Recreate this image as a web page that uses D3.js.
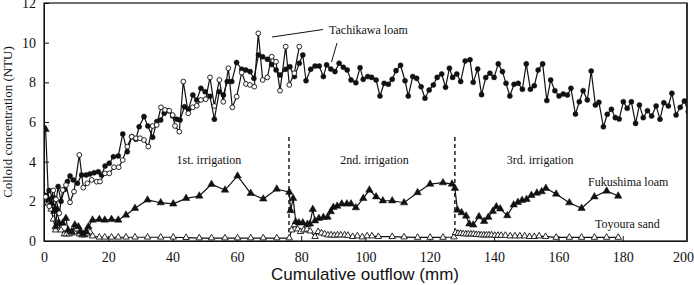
<!DOCTYPE html>
<html><head><meta charset="utf-8">
<script src="https://cdn.jsdelivr.net/npm/d3@7"></script>
<style>
body{margin:0;background:#fff;}
svg{display:block;}
svg text{font-family:"Liberation Serif","Times New Roman",serif;}
svg text.sans{font-family:"Liberation Sans",Arial,sans-serif;}
</style></head>
<body>
<svg id="c" width="694" height="285"></svg>
<script>
// ---- data ----
const xTicks = [0,20,40,60,80,100,120,140,160,180,200];
const yTicks = [0,2,4,6,8,10,12];
const irrigationBreaks = [76.2, 127.8];
const irrigationLabels = [
  {text:"1st. irrigation", x:51.3},
  {text:"2nd. irrigation", x:102.8},
  {text:"3rd. irrigation", x:154.3}
];
// Tachikawa loam (filled circles)
const tachiFilledX = [0.6,1.6,2.7,3.4,4.4,5.3,6.4,7.3,8.1,9.1,10.4,11.7,13.1,14.3,15.6,16.9,17.9,19.0,20.3,21.6,23.1,24.5,25.9,27.3,28.6,29.6,31.1,32.3,33.8,35.1,36.3,37.4,38.7,40.0,41.3,42.3,43.7,44.9,46.3,47.5,48.8,50.1,51.6,53.0,54.5,55.8,57.0,58.4,59.9,61.5,62.8,64.1,65.3,66.7,68.0,69.5,70.8,72.2,73.4,75.2,76.5,77.9,79.4,80.5,81.5,82.95,84.3,85.6,86.9,87.9,89.2,90.5,91.8,93.1,94.3,95.5,97.0,98.3,99.3,100.7,101.9,103.3,104.5,105.8,107.1,108.3,109.5,110.9,112.3,113.3,114.7,115.9,117.3,118.5,119.8,121.1,122.3,123.7,124.9,126.1,127.1,128.4,129.6,131.0,132.5,133.5,134.9,136.1,137.4,138.7,140.0,141.3,142.6,143.7,144.9,146.2,147.5,148.8,150.0,151.3,152.5,153.7,155.1,156.4,157.6,158.9,160.2,161.5,162.8,163.9,165.3,166.5,167.7,169.0,170.2,171.5,172.6,174.0,175.2,176.5,177.7,178.9,180.2,181.4,182.7,184.0,185.2,186.4,187.7,189.0,190.4,191.6,192.8,194.2,195.3,196.6,197.9,199.2,200.4];
const tachiFilledY = [2.3,2.55,2.2,1.6,2.75,2.0,2.6,3.0,3.28,3.08,2.91,3.33,3.33,3.38,3.44,3.49,3.33,3.78,3.92,4.25,4.29,5.40,4.50,5.26,5.13,5.76,6.27,5.80,5.23,6.02,6.10,6.44,6.57,6.30,6.14,6.1,6.77,6.64,7.36,7.11,7.70,7.53,7.3,6.14,7.53,7.36,8.04,8.04,9.0,8.66,8.62,8.54,8.20,9.38,9.29,9.16,8.9,8.62,8.37,8.66,8.79,8.29,8.96,9.38,8.08,8.66,8.82,8.82,8.29,8.88,8.67,8.54,8.96,8.76,8.62,8.12,7.98,8.74,8.15,8.29,8.25,8.12,7.31,7.95,7.90,8.15,8.59,8.86,8.08,7.31,8.29,8.20,7.78,7.20,7.61,7.87,8.25,8.42,7.75,8.71,8.25,8.42,8.04,9.08,9.14,8.0,8.67,7.38,8.24,8.46,8.25,8.93,8.54,7.95,7.31,7.90,7.95,7.65,8.93,7.65,7.83,8.62,8.93,7.08,8.12,7.58,7.31,7.41,7.36,7.70,6.40,7.02,7.58,7.11,8.57,6.86,6.99,5.76,6.39,6.64,6.22,6.15,7.02,6.69,7.02,5.93,6.86,6.22,6.57,6.30,6.81,6.14,6.97,6.81,7.45,6.35,6.74,7.06,6.52];
// Tachikawa loam (open circles)
const tachiOpenX = [0.53,1.65,2.89,3.73,4.76,5.82,6.84,8.09,9.33,10.98,12.22,13.47,14.84,16.39,17.42,18.97,20.31,21.77,23.23,24.48,25.91,27.28,28.62,29.86,31.1,32.44,33.81,35.05,36.39,37.64,38.97,40.03,40.75,42.08,43.33,44.88,46.25,47.5,48.83,50.3,51.63,52.97,54.53,55.77,57.33,58.57,59.94,61.49,62.83,64.07,65.41,66.66,68.02,69.46,70.82,72.16,73.41,75.18,76.3,77.85,79.41];
const tachiOpenY = [2.23,1.75,2.55,2.1,1.4,2.57,2.82,1.95,2.49,4.34,2.69,2.91,3.08,2.99,3.0,3.41,3.41,3.72,3.72,4.08,4.76,5.26,5.18,5.18,5.09,4.76,5.80,5.85,6.74,6.61,6.57,6.35,5.80,5.51,8.04,6.44,6.74,6.82,7.11,7.15,8.25,6.81,8.12,7.02,8.71,6.74,7.28,8.49,7.92,7.87,7.78,10.47,8.12,8.25,9.29,9.04,7.58,9.80,7.87,8.46,9.80];
// Fukushima loam (filled triangles)
const fukuX = [0.5,1.4,2.3,3.2,3.6,4.1,4.7,5.8,6.8,7.5,8.6,9.6,10.7,11.4,12.2,13.1,13.8,15.1,17.2,18.9,21.0,23.1,25.5,28.3,32.2,36.3,40.2,44.2,48.3,52.1,56.3,60.2,64.3,68.2,72.4,76.3,76.7,77.5,78.3,79.3,80.5,81.9,82.7,83.6,84.3,85.5,86.9,88.2,89.2,90.0,91.2,92.6,94.2,95.5,97.0,99.3,101.2,103.3,105.4,108.3,112.0,116.2,120.1,124.1,126.9,127.8,128.6,129.9,131.3,132.3,133.5,135.3,136.9,138.2,139.6,140.7,141.9,144.1,146.1,147.4,148.7,150.1,151.6,153.3,154.8,156.1,159.3,163.4,167.2,171.2,175.0,178.6];
const fukuY = [5.63,2.1,1.9,1.5,0.72,1.6,0.9,0.9,1.14,0.55,0.47,0.81,0.72,0.47,0.35,0.47,0.72,1.06,1.09,1.06,1.09,1.06,1.31,1.65,2.07,1.93,1.87,2.15,2.27,2.86,2.57,3.28,2.40,2.12,2.62,2.46,1.53,2.15,0.97,0.92,0.92,0.84,0.86,1.60,1.02,1.14,1.19,1.2,1.48,1.70,1.76,1.87,1.87,1.87,1.68,2.15,2.57,2.23,2.03,2.03,1.93,2.44,2.87,2.94,2.87,2.66,1.56,1.43,1.26,0.86,0.81,1.23,0.99,1.2,1.50,1.73,1.62,1.28,1.82,1.95,2.05,2.1,2.3,2.42,2.49,2.66,2.37,1.93,1.65,2.23,2.52,2.27];
// Toyoura sand (open triangles)
const toyoX = [0.5,1.3,2.2,2.9,3.6,4.4,5.3,6.3,7.0,7.8,8.6,9.4,10.2,11.0,11.8,12.6,13.4,14.3,15.1,17.2,18.9,21.0,23.1,25.5,28.3,32.2,36.3,40.2,44.2,48.3,52.1,56.3,60.2,64.3,68.2,72.4,76.3,77.0,77.9,78.9,79.8,80.8,81.8,82.8,84.3,85.3,86.3,87.3,88.3,89.3,90.3,91.3,92.3,93.5,94.5,96.0,97.5,99.0,100.5,102.0,104.0,108.3,112.0,116.2,120.1,124.1,127.5,128.0,128.8,129.6,130.4,131.2,132.0,132.8,133.6,134.4,135.2,136.0,136.8,137.6,138.4,139.2,140.2,141.2,142.2,143.5,145.0,146.5,148.0,149.5,151.0,152.5,154.0,156.0,159.3,163.4,167.2,171.2,175.0,178.6];
const toyoY = [2.2,1.9,1.6,1.1,0.55,0.9,0.55,0.35,0.35,0.35,0.4,0.45,0.6,0.35,0.3,0.3,0.35,0.45,0.25,0.19,0.19,0.19,0.19,0.19,0.19,0.19,0.19,0.19,0.17,0.15,0.15,0.15,0.15,0.15,0.15,0.15,0.15,0.55,0.81,0.6,0.47,0.55,0.59,0.5,0.22,0.47,0.4,0.35,0.3,0.3,0.28,0.3,0.3,0.3,0.28,0.22,0.25,0.2,0.25,0.25,0.22,0.22,0.2,0.18,0.18,0.18,0.2,0.42,0.38,0.38,0.36,0.35,0.35,0.35,0.35,0.32,0.32,0.3,0.3,0.3,0.3,0.3,0.28,0.28,0.28,0.28,0.25,0.25,0.25,0.25,0.22,0.22,0.25,0.22,0.18,0.18,0.18,0.18,0.18,0.18];

// ---- chart ----
const W = 694, H = 285;
const m = {l:44, r:7, t:3, b:44};
const svg = d3.select("#c");
const x = d3.scaleLinear().domain([0,200]).range([m.l, W-m.r]);
const y = d3.scaleLinear().domain([0,12]).range([H-m.b, m.t]);

svg.append("defs").append("clipPath").attr("id","clip")
  .append("rect").attr("x",m.l).attr("y",m.t).attr("width",W-m.r-m.l).attr("height",H-m.b-m.t);

// axes
const xa = svg.append("g").attr("transform",`translate(0,${H-m.b})`)
  .call(d3.axisBottom(x).tickValues(xTicks).tickSize(-5).tickSizeOuter(0).tickPadding(11));
const ya = svg.append("g").attr("transform",`translate(${m.l},0)`)
  .call(d3.axisLeft(y).tickValues(yTicks).tickSize(-5).tickSizeOuter(0).tickPadding(8));
[xa,ya].forEach(g=>{
  g.attr("font-family",null);
  g.selectAll("text").attr("font-size",14).attr("fill","#111");
  g.selectAll("line").attr("stroke","#111");
  g.select(".domain").attr("stroke","#111");
});
xa.selectAll(".tick:last-of-type text").attr("dx","-4");
// frame
svg.append("rect").attr("x",m.l).attr("y",m.t).attr("width",W-m.r-m.l).attr("height",H-m.b-m.t)
  .attr("fill","none").attr("stroke","#111").attr("stroke-width",1.2);
svg.append("line").attr("x1",x(200)).attr("x2",x(200)).attr("y1",y(12)).attr("y2",y(0))
  .attr("stroke","#333").attr("stroke-width",2);

// irrigation dashed lines
irrigationBreaks.forEach(b=>{
  svg.append("line").attr("x1",x(b)).attr("x2",x(b)).attr("y1",y(5.25)).attr("y2",y(0))
    .attr("stroke","#111").attr("stroke-width",1.4).attr("stroke-dasharray","4,3");
});
irrigationLabels.forEach(d=>{
  svg.append("text").attr("x",x(d.x)).attr("y",y(3.9)).attr("text-anchor","middle")
    .attr("font-size",12).attr("fill","#111").text(d.text);
});

const plot = svg.append("g").attr("clip-path","url(#clip)");
const line = d3.line().x(d=>x(d[0])).y(d=>y(d[1]));
function series(xs, ys, shape, filled, size){
  const pts = xs.map((v,i)=>[v, ys[i]]);
  plot.append("path").datum(pts).attr("d",line).attr("fill","none").attr("stroke","#111").attr("stroke-width",1.2);
  const sym = d3.symbol().type(shape).size(size);
  plot.selectAll(null).data(pts).enter().append("path")
    .attr("transform",d=>`translate(${x(d[0])},${y(d[1])})`)
    .attr("d",sym)
    .attr("fill",filled?"#111":"#fff").attr("stroke","#111").attr("stroke-width",filled?0.5:0.9);
}
series(toyoX, toyoY, d3.symbolTriangle, false, 18);
series(fukuX, fukuY, d3.symbolTriangle, true, 24);
series(tachiFilledX, tachiFilledY, d3.symbolCircle, true, 20);
series(tachiOpenX, tachiOpenY, d3.symbolCircle, false, 18);

// annotations
svg.append("line").attr("x1",272).attr("y1",37).attr("x2",323).attr("y2",29.5).attr("stroke","#111").attr("stroke-width",1);
svg.append("line").attr("x1",337).attr("y1",43).attr("x2",331.5).attr("y2",62).attr("stroke","#111").attr("stroke-width",1);
svg.append("text").attr("x",329).attr("y",33.5).attr("font-size",12).attr("fill","#111").text("Tachikawa loam");
svg.append("text").attr("x",588).attr("y",186).attr("font-size",12).attr("fill","#111").text("Fukushima loam");
svg.append("text").attr("x",595).attr("y",228).attr("font-size",12).attr("fill","#111").text("Toyoura sand");

// axis titles
svg.append("text").attr("class","sans").attr("x",365).attr("y",280).attr("text-anchor","middle")
  .attr("font-size",17).attr("fill","#111").text("Cumulative outflow (mm)");
svg.append("text").attr("transform",`translate(12,${(y(0)+y(12))/2}) rotate(-90)`).attr("text-anchor","middle")
  .attr("font-size",13).attr("fill","#111").text("Colloid concentration (NTU)");
</script>
</body></html>
